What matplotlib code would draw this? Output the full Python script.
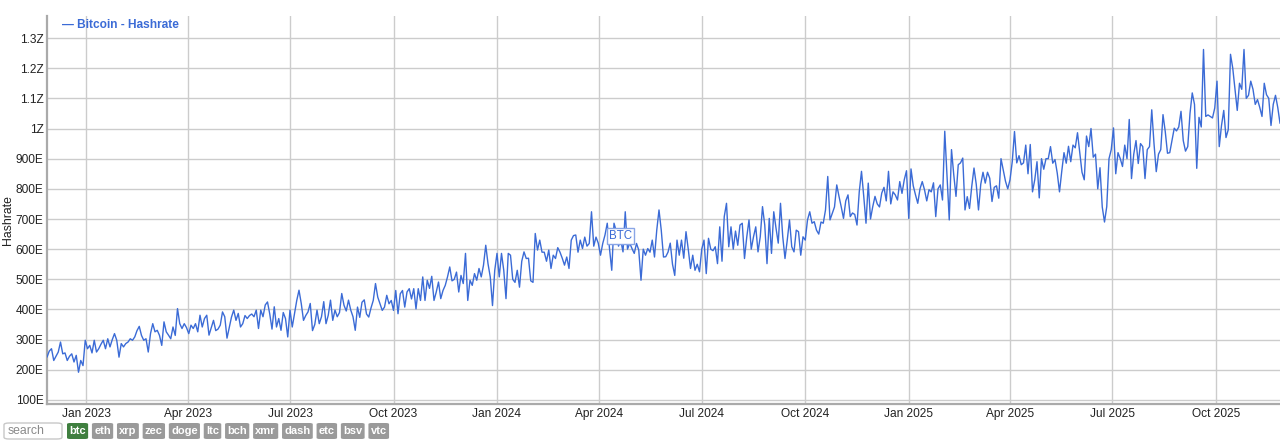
import matplotlib
matplotlib.use("Agg")
import matplotlib.pyplot as plt
import numpy as np
import pandas as pd
from matplotlib.patches import FancyBboxPatch

# ---------------- data (hashrate in EH/s, one reading every 2 days) ----------------
start_date = "2022-11-23"
step_days = 2

hashrate_part1 = [235, 250, 242, 262, 270, 231, 245, 259, 292, 253,
                  256, 231, 245, 253, 226, 248, 192, 231, 214, 298,
                  270, 281, 256, 298, 259, 270, 285, 298, 270, 303,
                  276, 300, 320, 298, 242, 287, 276, 287, 292, 303,
                  298, 309, 330, 344, 314, 298, 303, 259, 320, 353,
                  326, 331, 314, 281, 359, 326, 315, 303, 342, 314,
                  403, 353, 337, 353, 340, 320, 348, 337, 353, 326,
                  381, 342]
hashrate_part2 = [370, 381, 315, 340, 364, 330, 335, 348, 392, 376,
                  305, 340, 375, 398, 364, 387, 342, 353, 380, 370,
                  380, 385, 376, 398, 337, 398, 376, 415, 425, 385,
                  335, 409, 342, 370, 331, 390, 370, 309, 398, 342,
                  387, 430, 464, 420, 364, 380, 392, 420, 330, 350,
                  398, 353, 376, 426, 353, 381, 431, 364, 398, 376,
                  390, 453, 414, 395, 431, 398, 376, 331]
hashrate_part3 = [408, 374, 424, 432, 385, 375, 405, 430, 486, 441,
                  419, 397, 408, 447, 419, 430, 397, 463, 386, 452,
                  463, 408, 458, 469, 435, 469, 402, 469, 430, 508,
                  430, 497, 470, 510, 430, 458, 491, 436, 463, 480,
                  508, 541, 495, 500, 524, 458, 513, 486, 586, 430,
                  497, 480, 519, 497, 536, 508, 547, 613, 552, 508,
                  413, 530, 586, 508, 586, 530, 436, 586]
hashrate_part4 = [580, 500, 490, 530, 474, 560, 591, 569, 570, 495,
                  490, 652, 597, 630, 590, 590, 560, 597, 536, 580,
                  569, 605, 590, 570, 547, 574, 536, 630, 645, 647,
                  590, 630, 602, 640, 610, 619, 724, 610, 640, 620,
                  580, 619, 647, 686, 602, 530, 686, 660, 610, 630,
                  591, 724, 600, 620, 602, 586, 619, 597, 497, 600,
                  580, 602, 590, 630, 574, 663, 730, 663, 574]
hashrate_part5 = [575, 590, 620, 550, 513, 630, 580, 630, 570, 658,
                  600, 536, 580, 530, 550, 525, 600, 630, 519, 636,
                  600, 595, 608, 552, 674, 560, 708, 752, 608, 674,
                  600, 660, 613, 680, 686, 569, 640, 697, 600, 641,
                  674, 591, 641, 741, 680, 552, 702, 586, 724, 670,
                  620, 752, 641, 569, 630, 697, 608, 591, 663, 658,
                  580, 641, 630, 697, 724, 686, 691, 663, 650]
hashrate_part6 = [690, 686, 730, 841, 697, 719, 740, 813, 775, 740,
                  702, 760, 780, 708, 720, 715, 680, 790, 858, 775,
                  686, 819, 700, 741, 775, 750, 740, 786, 805, 760,
                  858, 750, 790, 780, 763, 824, 785, 830, 860, 702,
                  866, 810, 780, 752, 800, 824, 797, 760, 797, 790,
                  820, 708, 800, 813, 763, 991, 841, 697, 930, 847,
                  775, 880, 886, 902, 730, 774, 735, 808, 869]
hashrate_part7 = [815, 730, 815, 855, 819, 855, 835, 758, 805, 810,
                  769, 900, 863, 825, 800, 830, 890, 990, 886, 910,
                  880, 886, 945, 850, 947, 790, 830, 890, 770, 900,
                  865, 900, 900, 940, 885, 897, 852, 790, 858, 920,
                  885, 941, 890, 945, 936, 986, 920, 855, 830, 975,
                  940, 1000, 905, 915, 800, 870, 740, 690, 741, 900,
                  930, 1002, 850, 920, 900, 874, 945, 900, 1030]
hashrate_part8 = [834, 915, 960, 884, 950, 940, 834, 930, 940, 1062,
                  950, 857, 915, 930, 1046, 990, 918, 920, 960, 1001,
                  992, 1005, 1057, 960, 925, 940, 1050, 1118, 1080, 868,
                  1037, 1005, 1262, 1040, 1045, 1040, 1035, 1068, 1157, 940,
                  1010, 1060, 970, 996, 1246, 1200, 1130, 1060, 1150, 1130,
                  1262, 1100, 1110, 1157, 1130, 1080, 1096, 1070, 1040, 1150,
                  1112, 1100, 1010, 1080, 1110, 1070, 1018]

tick_dates = ["2023-01-01", "2023-04-01", "2023-07-01", "2023-10-01",
              "2024-01-01", "2024-04-01", "2024-07-01", "2024-10-01",
              "2025-01-01", "2025-04-01", "2025-07-01", "2025-10-01"]
tick_labels = ["Jan 2023", "Apr 2023", "Jul 2023", "Oct 2023",
               "Jan 2024", "Apr 2024", "Jul 2024", "Oct 2024",
               "Jan 2025", "Apr 2025", "Jul 2025", "Oct 2025"]
y_ticks = [100, 200, 300, 400, 500, 600, 700, 800, 900, 1000, 1100, 1200, 1300]
y_labels = ["100E", "200E", "300E", "400E", "500E", "600E", "700E", "800E",
            "900E", "1Z", "1.1Z", "1.2Z", "1.3Z"]

annotation_text = "BTC"
annotation_date = "2024-04-20"
annotation_value = 644

series_name = "Bitcoin - Hashrate"
coin_buttons = ["btc", "eth", "xrp", "zec", "doge", "ltc", "bch", "xmr",
                "dash", "etc", "bsv", "vtc"]

# ---------------- build series ----------------
values = (hashrate_part1 + hashrate_part2 + hashrate_part3 + hashrate_part4 +
          hashrate_part5 + hashrate_part6 + hashrate_part7 + hashrate_part8)
dates = pd.date_range(start_date, periods=len(values), freq=f"{step_days}D")

W, H = 1280, 445
fig = plt.figure(figsize=(W / 100, H / 100), dpi=100)
plt.rcParams["font.family"] = ["Liberation Sans", "DejaVu Sans"]

ax_left, ax_right, ax_top, ax_bottom = 47, 1280, 16, 404
ax = fig.add_axes([ax_left / W, 1 - ax_bottom / H,
                   (ax_right - ax_left) / W, (ax_bottom - ax_top) / H])

line_color = "#3b6bd6"
ax.plot(dates, values, color=line_color, lw=1.0, antialiased=True, zorder=3)

ax.set_xlim(pd.Timestamp("2022-11-27"), pd.Timestamp("2025-11-27"))
ax.set_ylim(86.7, 1373)

ax.set_xticks(pd.to_datetime(tick_dates))
ax.set_xticklabels(tick_labels)
ax.set_yticks(y_ticks)
ax.set_yticklabels(y_labels)
ax.tick_params(axis="both", length=0, labelsize=8.6, labelcolor="#222222")
ax.tick_params(axis="y", pad=2.5)
ax.tick_params(axis="x", pad=3)

ax.grid(True, color="#cccccc", lw=1.0, zorder=0)
for s in ["top", "right"]:
    ax.spines[s].set_visible(False)
for s in ["left", "bottom"]:
    ax.spines[s].set_color("#aaaaaa")
    ax.spines[s].set_linewidth(1.6)

fig.text(8 / W, 1 - 220 / H, "Hashrate", rotation=90, ha="center", va="center",
         fontsize=8.8, color="#222222")

# legend
fig.text(62 / W, 1 - 25 / H, "\u2014 " + series_name, ha="left", va="center",
         fontsize=8.6, fontweight="bold", color=line_color)

# annotation
ax.text(pd.Timestamp(annotation_date), annotation_value, annotation_text,
        ha="center", va="center", fontsize=8.3, color=line_color, zorder=5,
        bbox=dict(boxstyle="square,pad=0.15", fc="white", ec="#8aa6e6", lw=1.0))

# ---------------- bottom controls ----------------
def fx(x):
    return x / W

def fy(y):
    return 1 - y / H

# search box
fig.patches.append(FancyBboxPatch((fx(4), fy(439)), fx(62) - fx(4), fy(423) - fy(439),
                                  boxstyle="round,pad=0,rounding_size=0.004",
                                  transform=fig.transFigure, fc="white",
                                  ec="#c8c8c8", lw=1.0))
fig.text(fx(8), fy(431), "search", ha="left", va="center", fontsize=8.8,
         color="#8a8a8a")

renderer = fig.canvas.get_renderer()
x_cursor = 67
for i, name in enumerate(coin_buttons):
    t = fig.text(0, fy(431), name, ha="center", va="center", fontsize=8.0,
                 fontweight="bold", color="white", zorder=5)
    tw = t.get_window_extent(renderer).width
    bw = tw + 4.5
    t.set_x(fx(x_cursor + bw / 2))
    fc = "#3f7f3f" if i == 0 else "#9a9a9a"
    fig.patches.append(FancyBboxPatch((fx(x_cursor), fy(439)), bw / W, 16 / H,
                                      boxstyle="round,pad=0,rounding_size=0.0025",
                                      transform=fig.transFigure, fc=fc,
                                      ec="none", zorder=4))
    x_cursor += bw + 3.8

fig.savefig("out.png", dpi=100)
